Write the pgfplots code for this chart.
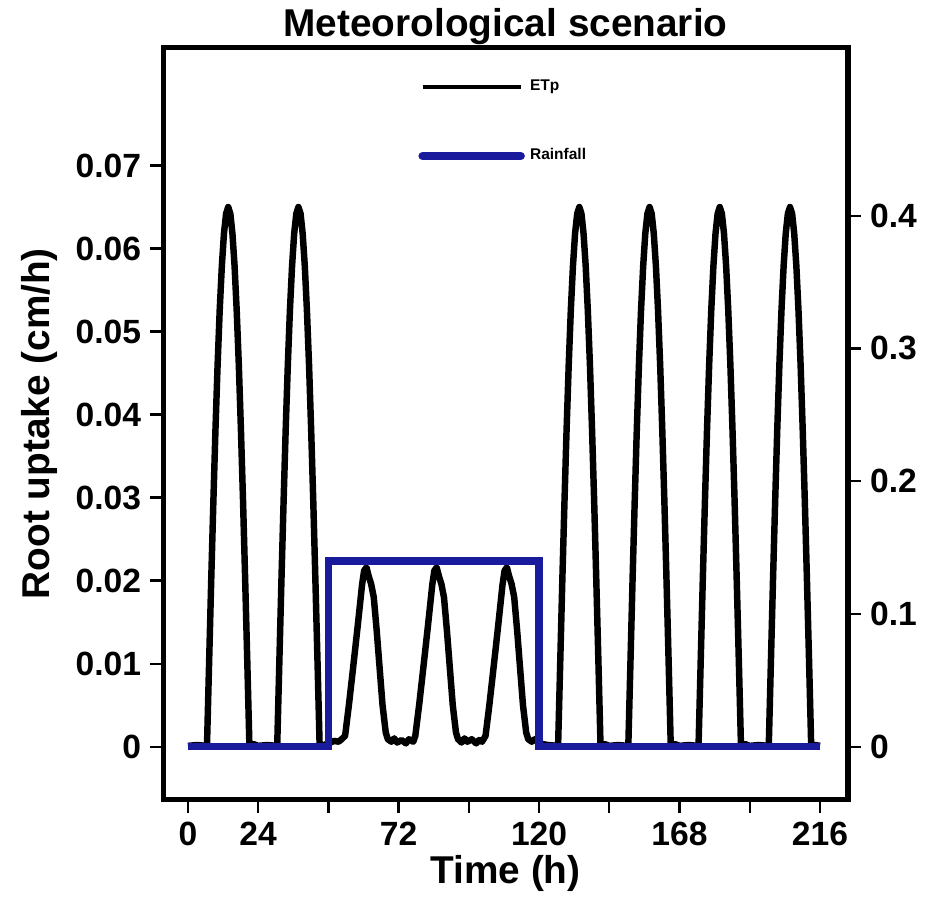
\documentclass[border=0pt]{standalone}
\usepackage{fontspec}
\setmainfont{Liberation Sans}
\usepackage{pgfplots}
\pgfplotsset{compat=1.18}
\usepackage{pgfplotstable}
\definecolor{rainblue}{RGB}{26,26,156}

% potential evapotranspiration (cm/h) against time (h)
\pgfplotstableread{
t et
0 0.0001
3 0.0002
6.5 0.0001
7.23 0.0102
7.95 0.0201
8.68 0.0295
9.4 0.0382
10.13 0.0460
10.85 0.0526
11.58 0.0579
12.3 0.0618
13.03 0.0642
13.75 0.0650
14.48 0.0642
15.2 0.0618
15.93 0.0579
16.65 0.0526
17.38 0.0460
18.1 0.0382
18.83 0.0295
19.55 0.0201
20.28 0.0102
21.0 0.0001
22.5 0.0003
24 0.0001
27 0.0002
30.5 0.0001
31.23 0.0102
31.95 0.0201
32.68 0.0295
33.4 0.0382
34.13 0.0460
34.85 0.0526
35.58 0.0579
36.3 0.0618
37.03 0.0642
37.75 0.0650
38.48 0.0642
39.2 0.0618
39.93 0.0579
40.65 0.0526
41.38 0.0460
42.1 0.0382
42.83 0.0295
43.55 0.0201
44.28 0.0102
45.0 0.0001
46.5 0.0002
48 0.0004
50 0.0007
51.5 0.0006
52.5 0.0009
53.7 0.0013
55.0 0.0050
56.5 0.0097
58.0 0.0145
59.5 0.0195
60.2 0.0212
61.0 0.0216
61.8 0.0205
62.6 0.0196
63.5 0.0180
64.5 0.0140
65.5 0.0095
66.5 0.0050
67.6 0.0017
68.3 0.0009
69.5 0.0006
70.5 0.0010
71.5 0.0005
73 0.0008
74.5 0.0004
75.5 0.0009
77 0.0006
77.7 0.0013
79.0 0.0050
80.5 0.0097
82.0 0.0145
83.5 0.0195
84.2 0.0212
85.0 0.0216
85.8 0.0205
86.6 0.0196
87.5 0.0180
88.5 0.0140
89.5 0.0095
90.5 0.0050
91.6 0.0017
92.3 0.0009
93.5 0.0005
94.5 0.0010
95.5 0.0006
97 0.0009
98.5 0.0004
99.5 0.0008
100.5 0.0006
101.7 0.0013
103.0 0.0050
104.5 0.0097
106.0 0.0145
107.5 0.0195
108.2 0.0212
109.0 0.0216
109.8 0.0205
110.6 0.0196
111.5 0.0180
112.5 0.0140
113.5 0.0095
114.5 0.0050
115.6 0.0017
116.3 0.0009
117.5 0.0006
118.5 0.0009
120 0.0004
123 0.0002
126.5 0.0001
127.23 0.0102
127.95 0.0201
128.68 0.0295
129.4 0.0382
130.13 0.0460
130.85 0.0526
131.58 0.0579
132.3 0.0618
133.03 0.0642
133.75 0.0650
134.48 0.0642
135.2 0.0618
135.93 0.0579
136.65 0.0526
137.38 0.0460
138.1 0.0382
138.83 0.0295
139.55 0.0201
140.28 0.0102
141.0 0.0001
142.5 0.0003
144 0.0001
147 0.0002
150.5 0.0001
151.23 0.0102
151.95 0.0201
152.68 0.0295
153.4 0.0382
154.13 0.0460
154.85 0.0526
155.58 0.0579
156.3 0.0618
157.03 0.0642
157.75 0.0650
158.48 0.0642
159.2 0.0618
159.93 0.0579
160.65 0.0526
161.38 0.0460
162.1 0.0382
162.83 0.0295
163.55 0.0201
164.28 0.0102
165.0 0.0001
166.5 0.0003
168 0.0001
171 0.0002
174.5 0.0001
175.23 0.0102
175.95 0.0201
176.68 0.0295
177.4 0.0382
178.13 0.0460
178.85 0.0526
179.58 0.0579
180.3 0.0618
181.03 0.0642
181.75 0.0650
182.48 0.0642
183.2 0.0618
183.93 0.0579
184.65 0.0526
185.38 0.0460
186.1 0.0382
186.83 0.0295
187.55 0.0201
188.28 0.0102
189.0 0.0001
190.5 0.0003
192 0.0001
195 0.0002
198.5 0.0001
199.23 0.0102
199.95 0.0201
200.68 0.0295
201.4 0.0382
202.13 0.0460
202.85 0.0526
203.58 0.0579
204.3 0.0618
205.03 0.0642
205.75 0.0650
206.48 0.0642
207.2 0.0618
207.93 0.0579
208.65 0.0526
209.38 0.0460
210.1 0.0382
210.83 0.0295
211.55 0.0201
212.28 0.0102
213.0 0.0001
214.5 0.0002
216 0.0001
}\etp

% rainfall (right axis)
\pgfplotstableread{
t rain
0 0
48 0
48 0.14
120 0.14
120 0
216 0
}\rain

\begin{document}
\begin{tikzpicture}
\pgfplotsset{
  common/.style={
    width=265pt, height=291pt, scale only axis,
    xmin=-8.5, xmax=225.6,
    axis line style={line width=2pt},
    tick align=outside,
    major tick length=5pt,
    every tick/.style={black, line width=0.9pt},
    tick label style={font=\fontsize{13}{15}\selectfont\bfseries},
    /pgf/number format/assume math mode=true,
    scaled y ticks=false, scaled x ticks=false,
    label style={font=\fontsize{15}{18}\selectfont\bfseries},
    title style={font=\fontsize{15}{18}\selectfont\bfseries, yshift=-8.5pt},
  },
}
\begin{axis}[common, name=ax,
    ymin=-0.00639, ymax=0.0842,
    xtick={0,24,...,216},
    xticklabels={0,24,,72,,120,,168,,216},
    ytick={0,0.01,0.02,0.03,0.04,0.05,0.06,0.07},
    yticklabels={0,0.01,0.02,0.03,0.04,0.05,0.06,0.07},
    xtick pos=left, ytick pos=left,
    xlabel={Time (h)},
    xlabel style={yshift=3pt},
    ylabel={Root uptake (cm/h)},
    title={Meteorological scenario},
]
\addplot[black, line width=2.5pt, line join=round] table[x=t, y=et] {\etp};
\end{axis}
\begin{axis}[common,
    ymin=-0.0399, ymax=0.5266,
    axis x line=none, axis y line*=right,
    ytick={0,0.1,0.2,0.3,0.4},
    yticklabels={0,0.1,0.2,0.3,0.4},
    ytick pos=right,
    legend cell align=left,
    legend image code/.code={\draw[#1] (0pt,0pt) -- (38pt,0pt);},
    legend style={draw=none, fill=none, inner sep=0pt,
      at={(rel axis cs:0.372,0.965)}, anchor=north west,
      font=\fontsize{6}{7}\selectfont\bfseries,
      row sep=17pt},
]
\addlegendimage{black, line width=1.6pt}
\addlegendentry{ETp}
\addlegendimage{rainblue, line width=3.2pt, line cap=round}
\addlegendentry{Rainfall}
\addplot[rainblue, line width=2.8pt, line join=miter, forget plot] table[x=t, y=rain] {\rain};
\end{axis}
\path ([xshift=-63.1pt,yshift=-36.4pt]ax.south west) rectangle ([xshift=31.7pt,yshift=17.4pt]ax.north east);
\end{tikzpicture}
\end{document}
